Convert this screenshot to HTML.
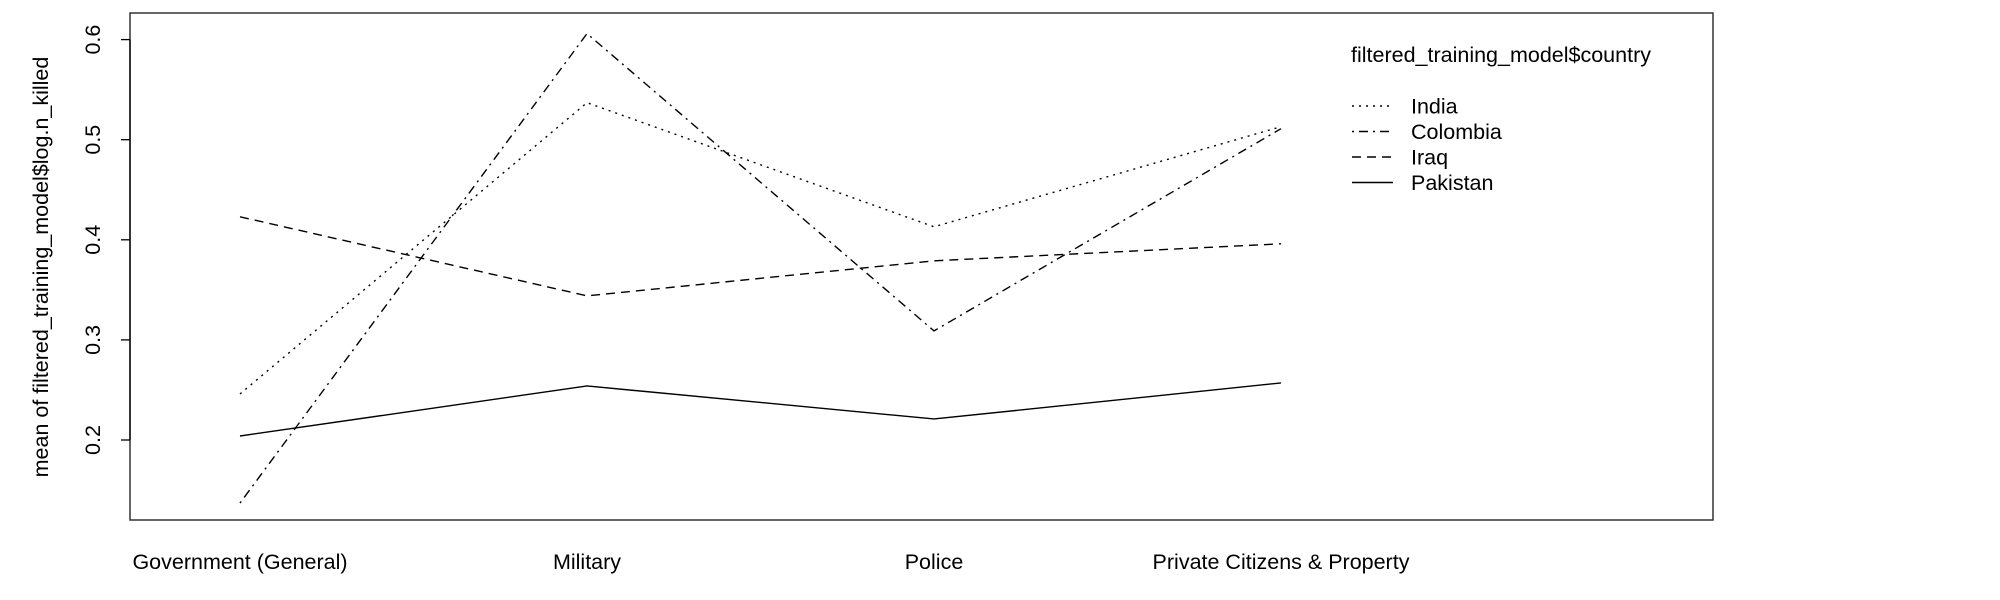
<!DOCTYPE html>
<html><head><meta charset="utf-8"><style>
body{margin:0;background:#fff}
svg{display:block;font-family:"Liberation Sans",Arial,sans-serif}
</style></head><body>
<svg id="chart" width="2000" height="600">
<rect x="130" y="13" width="1583" height="507" fill="none" stroke="#333" stroke-width="1.5"/>
<text transform="translate(48,267) rotate(-90)" text-anchor="middle" font-size="21.5">mean of  filtered_training_model$log.n_killed</text>
<g id="yaxis"></g>
<g id="xaxis"></g>
<g id="series"></g>
<g id="legend">
<text x="1351" y="62" font-size="21.5">filtered_training_model$country</text>
</g>
</svg>
<script>
const categories=["Government (General)","Military","Police","Private Citizens & Property"];
const countries=["India","Colombia","Iraq","Pakistan"];
const india=[0.246,0.537,0.413,0.513];
const colombia=[0.137,0.606,0.309,0.511];
const iraq=[0.423,0.344,0.379,0.396];
const pakistan=[0.204,0.254,0.221,0.257];
const yTicks=[0.2,0.3,0.4,0.5,0.6];
const seriesVals=[india,colombia,iraq,pakistan];
const dashes=["2,5","2,5,9,5","9,6","none"];
const NS="http://www.w3.org/2000/svg";
function X(i){return 240+i*347;}
function Y(v){return 440-(v-0.2)*1001;}
function mk(t,a,p){const e=document.createElementNS(NS,t);for(const k in a)e.setAttribute(k,a[k]);p.appendChild(e);return e;}
const ya=document.getElementById('yaxis');
mk('line',{x1:130,x2:130,y1:Y(yTicks[0]),y2:Y(yTicks[yTicks.length-1]),stroke:'#000','stroke-width':1.3},ya);
yTicks.forEach(v=>{
 const l=mk('line',{x1:121,x2:130,y1:Y(v),y2:Y(v),stroke:'#000','stroke-width':1.3},ya);
 
 
 const t=mk('text',{transform:`translate(100,${Y(v)}) rotate(-90)`,'text-anchor':'middle','font-size':21.5},ya);
 t.textContent=v.toFixed(1);
 
 
});
const xa=document.getElementById('xaxis');
categories.forEach((c,i)=>{
 const t=mk('text',{x:X(i),y:569,'text-anchor':'middle','font-size':21.5},xa);
 t.textContent=c;
 
 
});
const sg=document.getElementById('series');
seriesVals.forEach((vals,s)=>{
 const p=mk('polyline',{points:vals.map((v,i)=>X(i)+','+Y(v)).join(' '),fill:'none',stroke:'#000','stroke-width':1.4,'stroke-dasharray':dashes[s]},sg);
 
 
});
const lg=document.getElementById('legend');
countries.forEach((c,s)=>{
 const y=106+s*25.5;
 const l=mk('line',{x1:1352,x2:1393,y1:y,y2:y,stroke:'#000','stroke-width':1.4,'stroke-dasharray':dashes[s]},lg);
 
 
 const t=mk('text',{x:1411,y:y+7.5,'font-size':21.5},lg);
 t.textContent=c;
 
 
});
</script>
</body></html>
